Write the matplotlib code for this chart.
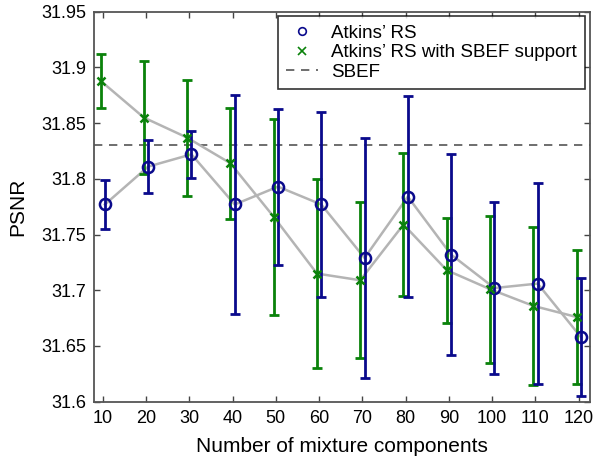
import matplotlib
matplotlib.use("Agg")
import matplotlib.pyplot as plt
import numpy as np

plt.rcParams['font.family'] = ['Liberation Sans', 'DejaVu Sans']

components = [10, 20, 30, 40, 50, 60, 70, 80, 90, 100, 110, 120]
rs_mean = [31.777, 31.811, 31.822, 31.777, 31.793, 31.777, 31.729, 31.784, 31.732, 31.702, 31.706, 31.658]
rs_err = [0.022, 0.024, 0.021, 0.098, 0.070, 0.083, 0.108, 0.090, 0.090, 0.077, 0.090, 0.053]
sbef_rs_mean = [31.888, 31.855, 31.837, 31.814, 31.766, 31.715, 31.709, 31.759, 31.718, 31.701, 31.686, 31.676]
sbef_rs_err = [0.024, 0.051, 0.052, 0.050, 0.088, 0.085, 0.070, 0.064, 0.047, 0.066, 0.071, 0.060]
sbef_value = 31.83
yticks = [31.6, 31.65, 31.7, 31.75, 31.8, 31.85, 31.9, 31.95]
ytick_labels = ['31.6', '31.65', '31.7', '31.75', '31.8', '31.85', '31.9', '31.95']

blue = '#0a0a8c'
green = '#0a820a'
gray = '#b4b4b4'

fig = plt.figure(figsize=(5.94, 4.62), dpi=100)
ax = fig.add_axes([94.3/594, 1-401.7/462, (590-94.3)/594, (401.7-11.7)/462])

x = np.array(components, dtype=float)
xb = x + 0.5
xg = x - 0.5

ax.plot(xb, rs_mean, color=gray, lw=1.8, zorder=1)
ax.plot(xg, sbef_rs_mean, color=gray, lw=1.8, zorder=1)

ax.errorbar(xg, sbef_rs_mean, yerr=sbef_rs_err, fmt='none', ecolor=green, elinewidth=2, capsize=3.3, capthick=2, zorder=2)
ax.errorbar(xb, rs_mean, yerr=rs_err, fmt='none', ecolor=blue, elinewidth=2, capsize=3.3, capthick=2, zorder=3)

ax.plot(xb, rs_mean, linestyle='none', marker='o', markersize=8, markerfacecolor='none',
        markeredgecolor=blue, markeredgewidth=1.8, zorder=4, label="Atkins\u2019 RS")
ax.plot(xg, sbef_rs_mean, linestyle='none', marker='x', markersize=6, color=green,
        markeredgewidth=1.8, zorder=4, label="Atkins\u2019 RS with SBEF support")
ax.axhline(sbef_value, color='#555555', lw=1.2, linestyle=(0, (5, 4)), zorder=0, label='SBEF')

ax.set_xlim(8.05, 122.6)
ax.set_ylim(31.6, 31.95)
ax.set_xticks(components)
ax.set_yticks(yticks)
ax.set_yticklabels(ytick_labels)
ax.tick_params(direction='in', length=4, width=1, colors='#444444', labelcolor='black',
               labelsize=13, top=True, right=True, pad=6)
for s in ax.spines.values():
    s.set_color('#555555')
    s.set_linewidth(1.3)

ax.set_xlabel('Number of mixture components', fontsize=15, labelpad=7)
ax.set_ylabel('PSNR', fontsize=15, labelpad=10)

leg = ax.legend(loc='upper right', fontsize=13.5, frameon=True, fancybox=False, borderpad=0.45,
                labelspacing=0.12, handlelength=1.7, handletextpad=0.7, borderaxespad=0.25,
                edgecolor='black')
leg.get_frame().set_linewidth(1.2)
for h in leg.legend_handles:
    try:
        h.set_markersize(5.5)
        h.set_markeredgewidth(1.2)
    except Exception:
        pass

fig.savefig('out.png', dpi=100)
